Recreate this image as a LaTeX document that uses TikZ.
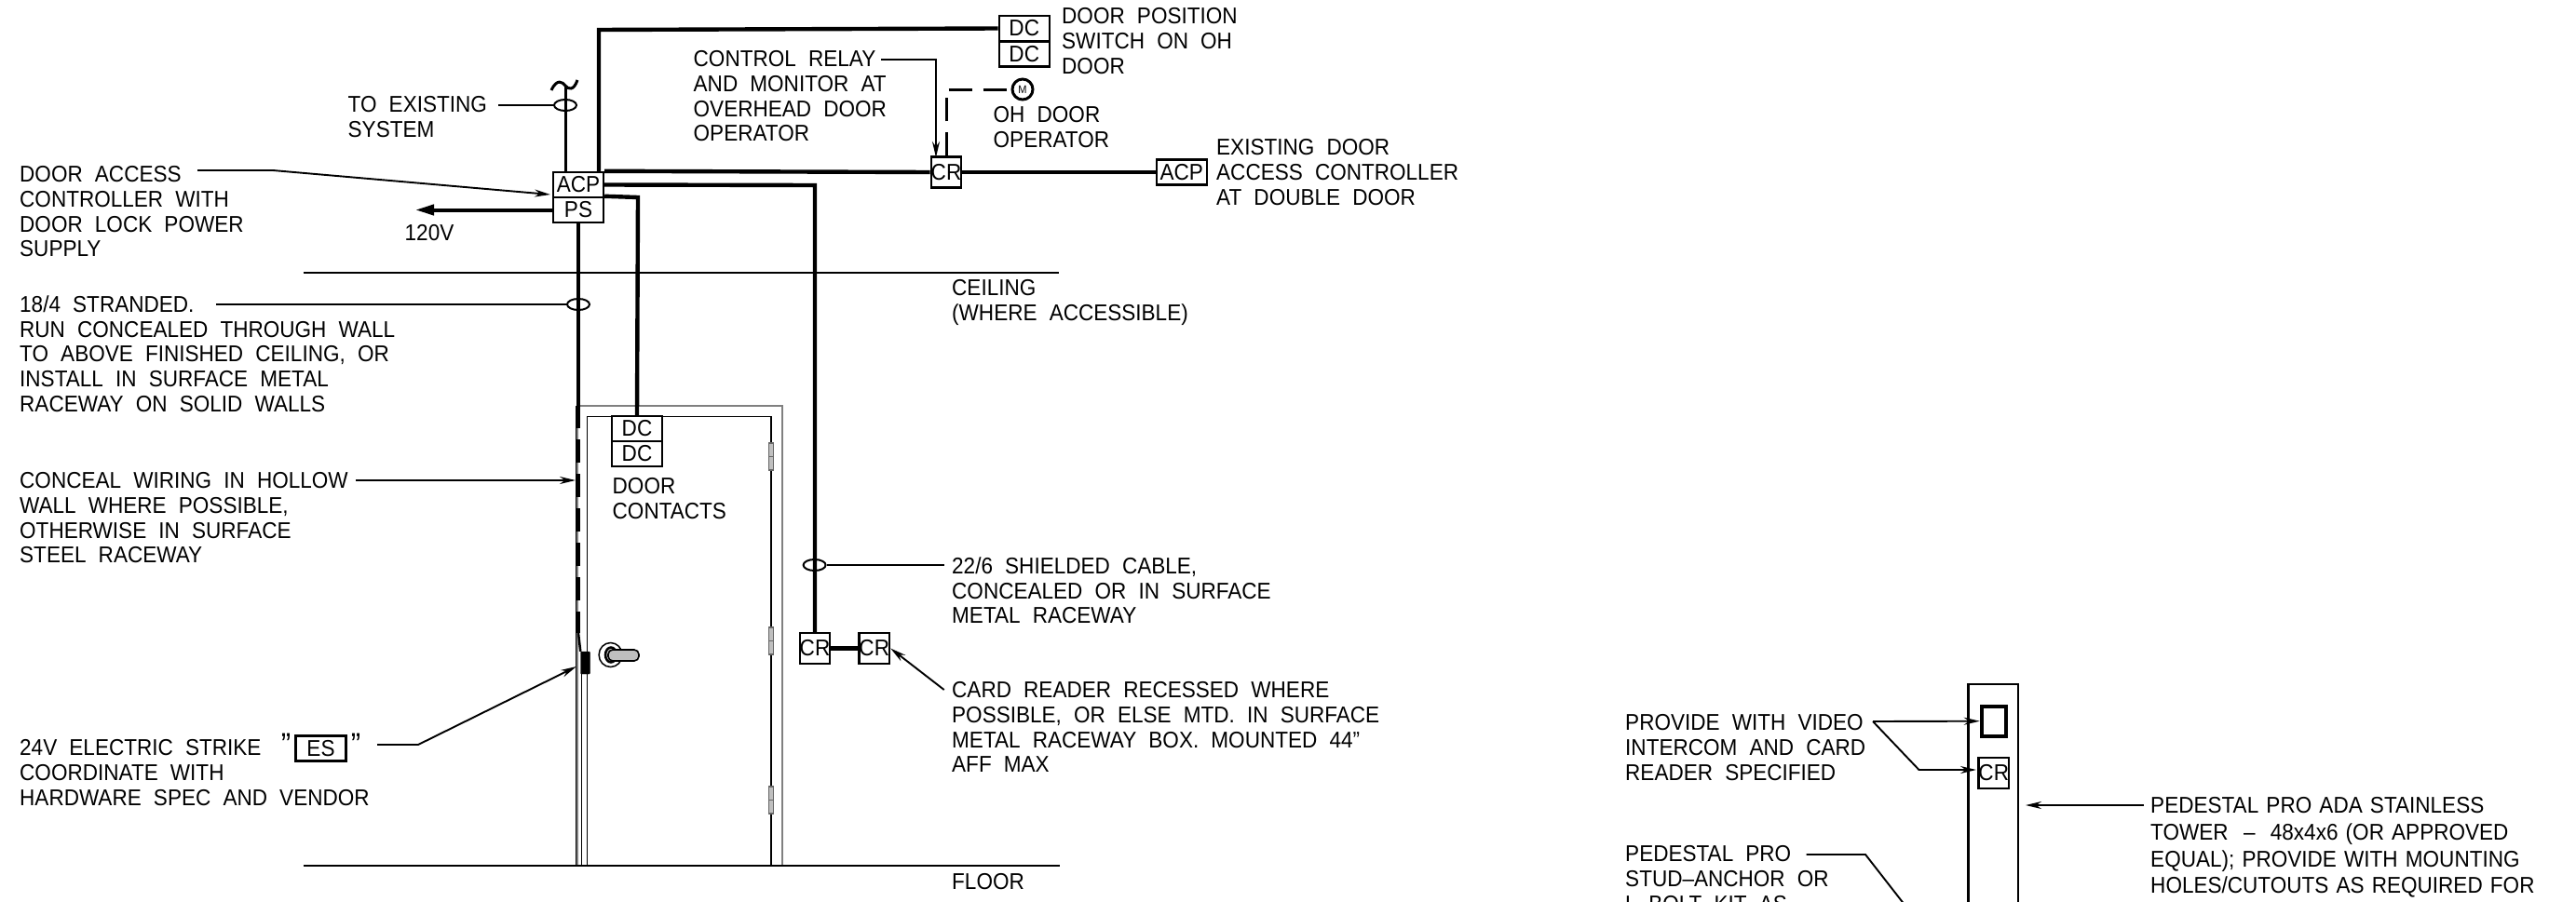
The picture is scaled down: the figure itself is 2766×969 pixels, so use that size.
\documentclass[tikz,border=0pt]{standalone}
\usepackage{fontspec}
\setmainfont[FakeStretch=0.92,WordSpace=2.1]{Liberation Sans}
\usetikzlibrary{arrows.meta,shapes.geometric}
\tikzset{
    wire/.style={line width=4.4pt},
    dashwire/.style={line width=4pt, dash pattern=on 25pt off 12pt},
    leader/.style={line width=1.9pt},
    arrowed/.style={leader, -{Stealth[length=17pt,width=8pt]}},
    thinline/.style={line width=1.5pt},
    floorline/.style={line width=2.2pt},
    tie/.style={ellipse, draw, line width=2pt, minimum width=24pt, minimum height=12pt, inner sep=0pt},
    devbox/.style={draw, line width=2.4pt, inner sep=0pt, minimum width=54pt, minimum height=27pt},
    crbox/.style={devbox, minimum width=32pt, minimum height=33pt},
    motor/.style={circle, draw, line width=3pt, minimum size=22pt, inner sep=0pt, font=\fontsize{12}{12}\selectfont},
    hinge/.style={draw=gray!80!black, fill=gray!50, line width=1.4pt}
}
\begin{document}
\begin{tikzpicture}[
    x=1pt, y=-1pt,
    every node/.style={inner sep=0pt, font=\fontsize{24.5}{26.7}\selectfont},
    note/.style={anchor=north west, align=left}
]
\useasboundingbox (0,0) rectangle (2766,969);
\clip (0,0) rectangle (2766,969);
% door and frame
\draw[thinline,gray] (620,930) -- (620,436) -- (840,436) -- (840,930);
\draw[thinline] (630.5,930) -- (630.5,447.5) -- (828,447.5) -- (828,930);
\draw[thinline] (618.5,436) -- (618.5,930);
\draw[thinline] (624.5,700) -- (624.5,930);
\foreach \hy in {476,674,845} {
    \draw[hinge] (825.5,\hy) rectangle (830.5,\hy+29);
    \draw[hinge] (825.5,\hy+14.5) -- (830.5,\hy+14.5);
}
\draw[floorline] (325.5,293) -- (1137,293);
\draw[floorline] (325.5,930) -- (1138,930);
% door handle
\draw[thinline] (655.6,703.5) ellipse (12.5 and 13);
\draw[line width=2.5pt, fill=gray!50] (656,703.5) ellipse (6 and 8);
\draw[line width=1.6pt, fill=gray!50, rounded corners=5pt] (653,698) rectangle (686,710);
% devices
\node[devbox] (acp) at (621,198.5) {ACP};
\node[devbox] (ps) at (621,225.5) {PS};
\node[devbox] (dcone) at (1099.75,30.5) {DC};
\node[devbox] (dctwo) at (1099.75,58) {DC};
\node[crbox] (crrelay) at (1016,185) {CR};
\node[devbox] (acpex) at (1268.75,185) {ACP};
\node[devbox] (dcdoor) at (684,460.5) {DC};
\node[devbox] (dcdoorb) at (684,487.5) {DC};
\node[crbox] (crone) at (875,696.5) {CR};
\node[crbox] (crtwo) at (938.75,696.5) {CR};
\node[crbox] (crped) at (2140.75,830.5) {CR};
\node[draw, line width=4pt, minimum width=26pt, minimum height=32pt] (vidbox) at (2140.75,774.7) {};
\node[devbox] (es) at (344.5,804) {ES};
\node[motor] (oper) at (1098,96) {M};
\node[draw, fill=black, rounded corners=1pt, minimum width=10pt, minimum height=24pt] (strike) at (628.5,712) {};
% wiring
\coordinate (tilde) at (607,92);
\coordinate (dashend) at (621,680);
\draw[wire] (acp.north east) -- (crrelay.west);
\draw[wire] (crrelay.east) -- (acpex.west);
\draw[wire] (dcone.west) -- (643,32) -- (643,185);
\draw[wire] (acp.east) -- (875,199) -- (crone.north);
\draw[wire] (ps.north east) -- (685,212) -- (dcdoor.north);
\draw[wire] (crone.east) -- (crtwo.west);
\draw[wire] (ps.south) -- (621,435);
\draw[dashwire] (621,435) -- (dashend);
\draw[wire,line width=2.5pt] (dashend) -- (strike.north west);
\draw[line width=3pt] (tilde) -- (607,185);
\draw[line width=3pt] (592,97) .. controls (598,84) and (604,88) .. (tilde) .. controls (610,96) and (616,98) .. (620,86);
\draw[dashwire,line width=3pt] (crrelay.north) |- (oper.west);
\draw[line width=4pt, -{Stealth[length=20pt,width=11pt,inset=0pt]}] (ps.west) -- (446,225.5);
% cable ties
\node[tie] (tiesys) at (607,113) {};
\node[tie] (tiepow) at (621,327) {};
\node[tie] (tiecard) at (874.6,607) {};
% notes
\node[note] (tosys) at (373.5,103.5) {TO EXISTING\\SYSTEM};
\node[note] (acpnote) at (21,178.5) {DOOR ACCESS\\CONTROLLER WITH\\DOOR LOCK POWER\\SUPPLY};
\node[note] (volts) at (434.5,241) {120V};
\node[note] (cablenote) at (21,317.5) {18/4 STRANDED.\\RUN CONCEALED THROUGH WALL\\TO ABOVE FINISHED CEILING, OR\\INSTALL IN SURFACE METAL\\RACEWAY ON SOLID WALLS};
\node[note] (concnote) at (21,507.5) {CONCEAL WIRING IN HOLLOW\\WALL WHERE POSSIBLE,\\OTHERWISE IN SURFACE\\STEEL RACEWAY};
\node[note] (esnote) at (21,794.5) {24V ELECTRIC STRIKE\\COORDINATE WITH\\HARDWARE SPEC AND VENDOR};
\node[font=\fontsize{34}{34}\selectfont] (quoteone) at (307,800) {''};
\node[font=\fontsize{34}{34}\selectfont] (quotetwo) at (382,800) {''};
\node[note] (contacts) at (657.5,513.5) {DOOR\\CONTACTS};
\node[note] (relaynote) at (744.5,54.5) {CONTROL RELAY\\AND MONITOR AT\\OVERHEAD DOOR\\OPERATOR};
\node[note] (posnote) at (1140,8.5) {DOOR POSITION\\SWITCH ON OH\\DOOR};
\node[note] (opernote) at (1066.5,114.5) {OH DOOR\\OPERATOR};
\node[note] (exnote) at (1306,149.5) {EXISTING DOOR\\ACCESS CONTROLLER\\AT DOUBLE DOOR};
\node[note] (ceiling) at (1022,300.5) {CEILING\\(WHERE ACCESSIBLE)};
\node[note] (shieldnote) at (1022,598.5) {22/6 SHIELDED CABLE,\\CONCEALED OR IN SURFACE\\METAL RACEWAY};
\node[note] (cardnote) at (1022,732.5) {CARD READER RECESSED WHERE\\POSSIBLE, OR ELSE MTD. IN SURFACE\\METAL RACEWAY BOX. MOUNTED 44''\\AFF MAX};
\node[note] (floornote) at (1022,938.5) {FLOOR};
% leaders
\coordinate (tosysend) at (535,113);
\coordinate (acpend) at (212,183);
\coordinate (cableend) at (232,327);
\coordinate (concend) at (382,516);
\coordinate (esend) at (405,800);
\coordinate (relayend) at (946,64);
\coordinate (shieldend) at (1013.7,607);
\coordinate (cardend) at (1013.7,741);
\coordinate (relaytip) at (1005,169);
\coordinate (acptip) at (591,209);
\coordinate (conctip) at (618,516);
\coordinate (estip) at (619,716);
\draw[leader] (tosysend) -- (tiesys);
\draw[leader] (cableend) -- (tiepow);
\draw[leader] (shieldend) -- (tiecard);
\draw[arrowed] (acpend) -- (293,183) -- (acptip);
\draw[arrowed] (concend) -- (conctip);
\draw[arrowed] (esend) -- (449,800) -- (estip);
\draw[arrowed] (relayend) -- (1005,64) -- (relaytip);
\draw[arrowed] (cardend) -- (crtwo.east);
% pedestal
\draw[line width=2.4pt] (2113.6,980) -- (2113.6,735) -- (2166.7,735) -- (2166.7,980);
\node[note] (videonote) at (1745,767.5) {PROVIDE WITH VIDEO\\INTERCOM AND CARD\\READER SPECIFIED};
\node[note] (studnote) at (1745,908.5) {PEDESTAL PRO\\STUD--ANCHOR OR\\L--BOLT KIT AS};
\node[note, text width=460pt, font=\fontsize{24.5}{28.6}\selectfont] (towernote) at (2309,856.5) {PEDESTAL PRO ADA STAINLESS\\TOWER\ \ --\ \ 48x4x6 (OR APPROVED\\EQUAL); PROVIDE WITH MOUNTING\\HOLES/CUTOUTS AS REQUIRED FOR};
\coordinate (videoend) at (2011,775);
\coordinate (studend) at (1939.5,918);
\coordinate (towerend) at (2302,865);
\coordinate (towertip) at (2175,865);
\draw[arrowed] (videoend) -- (vidbox.west);
\draw[arrowed] (videoend) -- (2060.5,827) -- (2122,827);
\draw[leader] (studend) -- (2003,918) -- (2063,995);
\draw[arrowed] (towerend) -- (towertip);
\end{tikzpicture}
\end{document}
